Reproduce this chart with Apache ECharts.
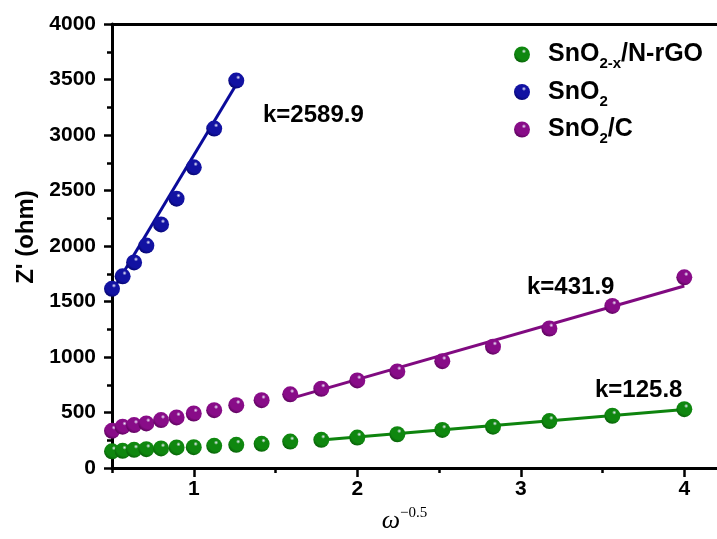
<!DOCTYPE html>
<html>
<head>
<meta charset="utf-8">
<script src="https://cdn.jsdelivr.net/npm/echarts@6/dist/echarts.min.js"></script>
<style>
  html, body { margin: 0; padding: 0; background: #fff; }
  #main { width: 717px; height: 539px; }
</style>
</head>
<body>
<div id="main"></div>
<script>
// x values (omega^-0.5), shared by the three samples
const xVals = [0.50, 0.565, 0.635, 0.71, 0.80, 0.895, 1.0, 1.125, 1.26, 1.415, 1.59, 1.78, 2.0, 2.245, 2.52, 2.83, 3.175, 3.56, 4.0]
const greenY = [150, 155, 164, 170, 176, 185, 188, 200, 209, 218, 238, 254, 274, 304, 343, 372, 423, 471, 530]
const purpleY = [335, 372, 387, 402, 432, 456, 491, 521, 566, 611, 664, 714, 789, 870, 962, 1093, 1257, 1460, 1718]
const blueY = [1614, 1727, 1852, 2004, 2194, 2426, 2709, 3058, 3490]

// fitted lines (end points)
const greenFit = [[1.78, 252], [4.0, 527]]
const purpleFit = [[1.59, 625], [4.0, 1640]]
const blueFit = [[0.5, 1590], [1.26, 3455]]

const names = ['SnO2-x/N-rGO', 'SnO2', 'SnO2/C']
const slopes = ['k=2589.9', 'k=431.9', 'k=125.8']
const xMajor = [1, 2, 3, 4]
const xMinor = [0.5, 1.5, 2.5, 3.5]

const FONT = 'Liberation Sans'

function pairs(ys) {
  return ys.map((y, i) => [xVals[i], y])
}

// shaded ball like the origin symbols
function ball(base, dark) {
  return new echarts.graphic.RadialGradient(0.62, 0.3, 0.8, [
    { offset: 0, color: '#f0f0ff' },
    { offset: 0.17, color: base },
    { offset: 0.65, color: base },
    { offset: 1, color: dark }
  ])
}

const chart = echarts.init(document.getElementById('main'))

const legendText = {
  'SnO2-x/N-rGO': '{p| }{a|SnO}{s|2-x}{a|/N-rGO}',
  'SnO2': '{p| }{a|SnO}{s|2}',
  'SnO2/C': '{p| }{a|SnO}{s|2}{a|/C}'
}

const lineBase = { type: 'line', symbol: 'none', silent: true, z: 1 }

chart.setOption({
  animation: false,
  grid: { left: 112, top: 24, width: 610, height: 448 },
  legend: {
    orient: 'vertical',
    left: 509,
    top: 37,
    itemWidth: 16,
    itemHeight: 16,
    itemGap: 8,
    icon: 'circle',
    data: names,
    formatter: n => legendText[n],
    textStyle: {
      color: '#000',
      rich: {
        p: { width: 13 },
        a: { fontFamily: FONT, fontWeight: 'bold', fontSize: 25, lineHeight: 34, color: '#000' },
        s: { fontFamily: FONT, fontWeight: 'bold', fontSize: 15, lineHeight: 8, verticalAlign: 'bottom', color: '#000' }
      }
    }
  },
  xAxis: [
    {
      type: 'value',
      min: 0.5,
      max: 4.2,
      interval: 0.5,
      position: 'bottom',
      name: '{w|ω}{e|−0.5}',
      nameLocation: 'middle',
      nameGap: 38,
      nameTextStyle: {
        padding: [0, 20, 0, 0],
        rich: {
          w: { fontFamily: 'Liberation Serif', fontStyle: 'italic', fontSize: 26, lineHeight: 30, color: '#000' },
          e: { fontFamily: 'Liberation Serif', fontSize: 15, lineHeight: 10, verticalAlign: 'top', color: '#000' }
        }
      },
      axisLine: { lineStyle: { color: '#000', width: 3 } },
      axisTick: { customValues: xMajor, length: 9, lineStyle: { color: '#000', width: 2.5 } },
      axisLabel: {
        customValues: xMajor,
        margin: 11,
        color: '#000',
        fontFamily: FONT,
        fontWeight: 'bold',
        fontSize: 21
      },
      splitLine: { show: false }
    },
    {
      type: 'value',
      min: 0.5,
      max: 4.2,
      interval: 0.5,
      position: 'bottom',
      axisLine: { show: false },
      axisTick: { customValues: xMinor, length: 5, lineStyle: { color: '#000', width: 2.5 } },
      axisLabel: { show: false },
      splitLine: { show: false }
    },
    {
      type: 'value',
      min: 0.5,
      max: 4.2,
      position: 'top',
      axisLine: { lineStyle: { color: '#000', width: 3 } },
      axisTick: { show: false },
      axisLabel: { show: false },
      splitLine: { show: false }
    }
  ],
  yAxis: {
    type: 'value',
    min: 0,
    max: 4000,
    interval: 500,
    name: "Z' (ohm)",
    nameLocation: 'middle',
    nameGap: 72,
    nameTextStyle: {
      color: '#000',
      fontFamily: FONT,
      fontWeight: 'bold',
      fontSize: 24,
      padding: [0, 0, 0, 18]
    },
    axisLine: { lineStyle: { color: '#000', width: 3 } },
    axisTick: { length: 8, lineStyle: { color: '#000', width: 2.5 } },
    minorTick: { show: true, splitNumber: 2, length: 5, lineStyle: { color: '#000', width: 2.5 } },
    axisLabel: {
      margin: 16,
      color: '#000',
      fontFamily: FONT,
      fontWeight: 'bold',
      fontSize: 21,
      formatter: v => String(v)
    },
    splitLine: { show: false }
  },
  graphic: [
    { type: 'text', left: 263, top: 103, style: { text: slopes[0], font: 'bold 24px "Liberation Sans"', fill: '#000' } },
    { type: 'text', left: 527, top: 275, style: { text: slopes[1], font: 'bold 24px "Liberation Sans"', fill: '#000' } },
    { type: 'text', left: 595, top: 378, style: { text: slopes[2], font: 'bold 24px "Liberation Sans"', fill: '#000' } }
  ],
  series: [
    Object.assign({ name: 'fitBlue', data: blueFit, lineStyle: { color: '#0a0a9a', width: 3 } }, lineBase),
    Object.assign({ name: 'fitPurple', data: purpleFit, lineStyle: { color: '#800a80', width: 3 } }, lineBase),
    Object.assign({ name: 'fitGreen', data: greenFit, lineStyle: { color: '#0e840e', width: 3 } }, lineBase),
    {
      name: names[0],
      type: 'scatter',
      symbolSize: 16,
      data: pairs(greenY),
      itemStyle: { opacity: 1, color: ball('#0f870f', '#055205') }
    },
    {
      name: names[1],
      type: 'scatter',
      symbolSize: 16,
      data: pairs(blueY),
      itemStyle: { opacity: 1, color: ball('#1212a2', '#00005c') }
    },
    {
      name: names[2],
      type: 'scatter',
      symbolSize: 16,
      data: pairs(purpleY),
      itemStyle: { opacity: 1, color: ball('#880c88', '#4c004c') }
    }
  ]
})
</script>
</body>
</html>
